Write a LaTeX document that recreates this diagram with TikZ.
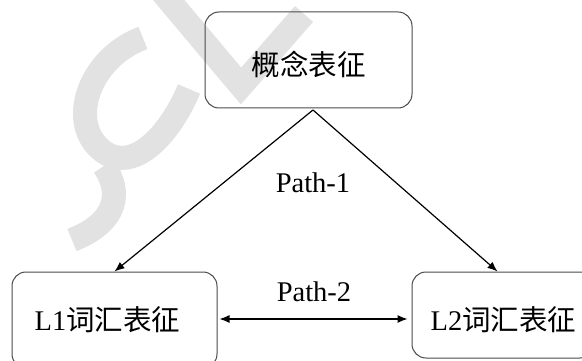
\documentclass[tikz,border=0pt]{standalone}
\usepackage{fontspec}
\setmainfont{Liberation Serif}
\newfontfamily\cjk{Noto Sans CJK SC}
\usetikzlibrary{arrows.meta,calc}
\definecolor{wm}{HTML}{E2E2E2}
\definecolor{boxline}{HTML}{4A4A4A}
\tikzset{
  box/.style={draw=boxline,line width=1pt,rounded corners=14pt,inner sep=0pt},
  lbl/.style={inner sep=0pt,font=\fontsize{28.5}{32}\selectfont},
  arr/.style={draw=black,line width=1.2pt,-{Latex[length=10pt,width=8pt]}},
  darr/.style={draw=black,line width=1.2pt,{Latex[length=10pt,width=8pt]}-{Latex[length=10pt,width=8pt]}},
  wmark/.style={draw=wm,line width=24pt}
}
\begin{document}
\begin{tikzpicture}[x=1pt,y=-1pt]
\useasboundingbox (0,0) rectangle (582,361);
\fill[white] (0,0) rectangle (582,361);
% watermark
\draw[wmark] (104,166) .. controls (122,192) and (118,222) .. (72,240);
\draw[wmark] (143,38) .. controls (88,58) and (66,125) .. (104,152) .. controls (136,174) and (172,130) .. (189,89);
\draw[wmark] (162,-8) -- (241,86) -- (304,14);
% boxes
\node[box,minimum width=207pt,minimum height=96pt] (top) at (308.5,60) {};
\node[box,minimum width=205pt,minimum height=96pt] (l1) at (114.5,320) {};
\node[box,minimum width=182pt,minimum height=86pt] (l2) at (503,315) {};
% texts
\node[lbl] (ttop) at (308.5,64) {\cjk 概念表征};
\node[lbl] (tl1) at (107.5,320) {L1\cjk 词汇表征};
\node[lbl] (tl2) at (503.5,320) {L2\cjk 词汇表征};
\node[lbl] (p1) at (313,183) {Path-1};
\node[lbl] (p2) at (314,292) {Path-2};
% connectors
\coordinate (apex) at (313,110);
\coordinate (l1in) at ($(l1.north west)+(103,0)$);
\coordinate (l2in) at ($(l2.north west)+(86,0)$);
\draw[arr] (apex) -- (l1in);
\draw[arr] (apex) -- (l2in);
\coordinate (h1) at ($(l1.east)+(2,-1)$);
\coordinate (h2) at ($(l2.west)+(-4,4)$);
\draw[darr] (h1) -- (h2);
\end{tikzpicture}
\end{document}
